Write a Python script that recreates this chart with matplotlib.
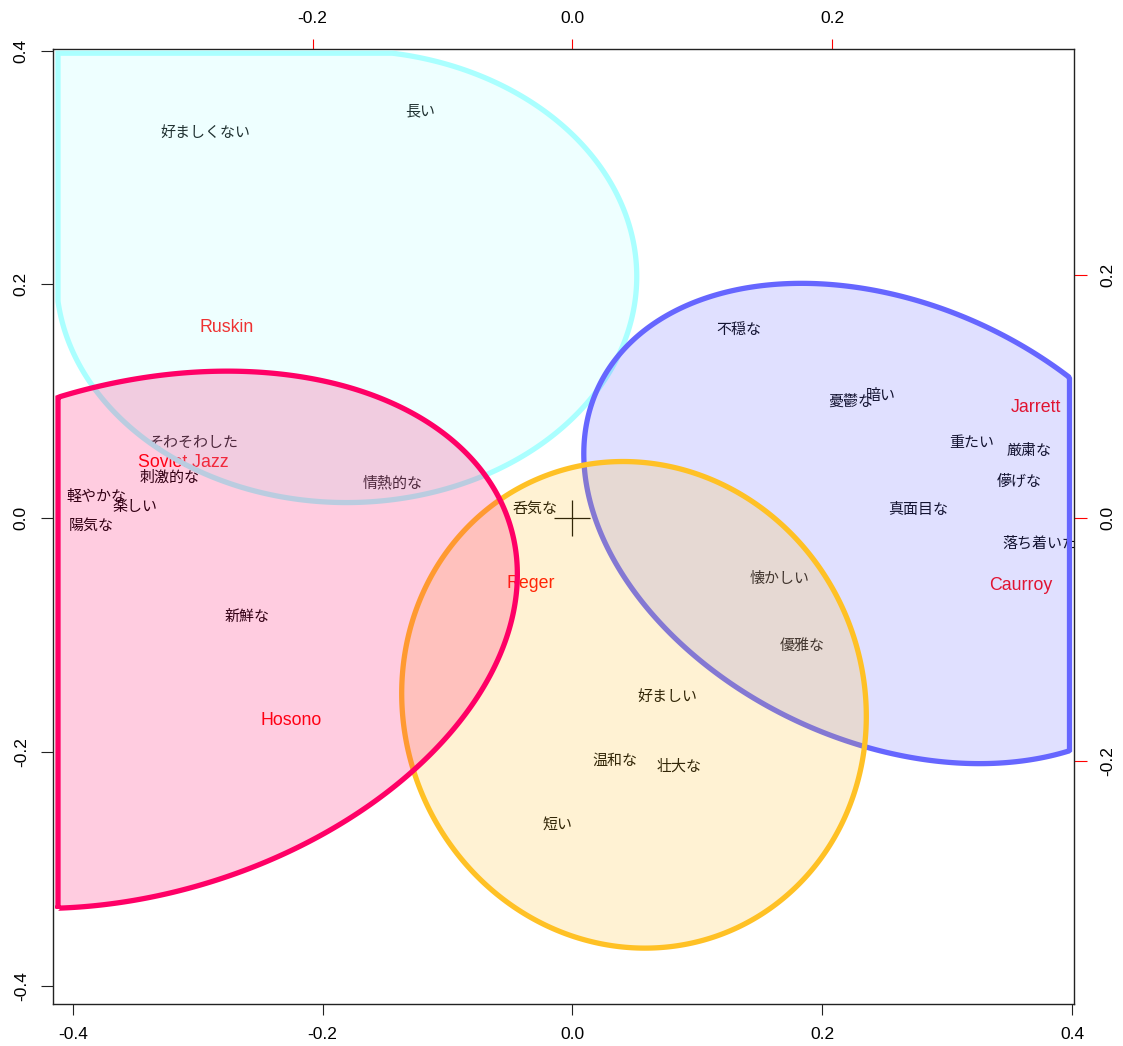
import numpy as np
import matplotlib
matplotlib.use("Agg")
import matplotlib.pyplot as plt
import matplotlib.transforms as mtransforms
from matplotlib.patches import Polygon
from matplotlib.colors import to_rgb

plt.rcParams['font.family'] = ['Liberation Sans', 'Noto Sans CJK JP', 'DejaVu Sans']
plt.rcParams['axes.unicode_minus'] = False

# Adjectives (row scores, bottom/left scale)
word_labels = ["好ましくない", "長い", "そわそわした", "刺激的な", "情熱的な", "軽やかな",
               "楽しい", "陽気な", "新鮮な", "呑気な", "不穏な", "憂鬱な", "暗い",
               "重たい", "厳粛な", "儚げな", "真面目な", "落ち着いた", "懐かしい",
               "優雅な", "好ましい", "温和な", "壮大な", "短い"]
word_x = [-0.2941, -0.1221, -0.3037, -0.3225, -0.1442, -0.3810, -0.3506, -0.3851,
          -0.2602, -0.0301, 0.1335, 0.2225, 0.2473, 0.3193, 0.3659, 0.3574,
          0.2766, 0.3745, 0.1662, 0.1841, 0.0759, 0.0337, 0.0857, -0.0119]
word_y = [0.3298, 0.3478, 0.0645, 0.0346, 0.0303, 0.0183, 0.0098, -0.0062,
          -0.0839, 0.0080, 0.1609, 0.0996, 0.1044, 0.0645, 0.0573, 0.0317,
          0.0074, -0.0216, -0.0516, -0.1095, -0.1528, -0.2079, -0.2122, -0.2621]

# Pieces (column scores, top/right scale)
piece_labels = ["Ruskin", "Soviet Jazz", "Jarrett", "Caurroy", "Reger", "Hosono"]
piece_x = [-0.2666, -0.2993, 0.3572, 0.3455, -0.0324, -0.2164]
piece_y = [0.1572, 0.0456, 0.0913, -0.0551, -0.0540, -0.1665]

# the top/right scale is the bottom/left scale divided by this ratio
scale_ratio = 1.04

# Cluster ellipses on the bottom/left scale: centre, spread, correlation
cluster_cx = [-0.1809, 0.2547, 0.0493, -0.3513]
cluster_cy = [0.2068, -0.0045, -0.1596, -0.1040]
cluster_sx = [0.2324, 0.2456, 0.1860, 0.3072]
cluster_sy = [0.1934, 0.2054, 0.2081, 0.2298]
cluster_rho = [0.0, -0.29, -0.047, 0.2438]
cluster_corner = [(-1, 1), None, None, None]
cluster_colors = ["#AAFFFF", "#6666FF", "#FFC125", "#FF0066"]

lims = (-0.4155, 0.4016)

fig = plt.figure(figsize=(11.23, 10.46), dpi=100)
ax = fig.add_axes([0.04764, 0.04015, 0.90873, 0.91329])
ax.set_xlim(lims)
ax.set_ylim(lims)

ticks = [-0.4, -0.2, 0.0, 0.2, 0.4]
ax.set_xticks(ticks)
ax.set_xticklabels([f"{t:.1f}" for t in ticks])
ax.set_yticks(ticks)
ax.set_yticklabels([f"{t:.1f}" for t in ticks], rotation=90, va='center')
ax.tick_params(axis='x', direction='out', length=8.0, width=0.8, color='#222222',
               labelsize=12.5, pad=8.5)
ax.tick_params(axis='y', direction='out', length=8.3, width=0.8, color='#222222',
               labelsize=12.5, pad=9.5)
for sp in ax.spines.values():
    sp.set_color('#222222')
    sp.set_linewidth(1.0)

# Secondary scale for the pieces
secx = ax.secondary_xaxis('top', functions=(lambda v: v / scale_ratio, lambda v: v * scale_ratio))
sec_ticks = [-0.2, 0.0, 0.2]
secx.set_xticks(sec_ticks)
secx.set_xticklabels([f"{t:.1f}" for t in sec_ticks])
secx.tick_params(direction='out', length=7.5, width=0.8, color='red', labelsize=12.5, pad=8.5)
secx.spines['top'].set_visible(False)
secy = ax.secondary_yaxis('right', functions=(lambda v: v / scale_ratio, lambda v: v * scale_ratio))
secy.set_yticks(sec_ticks)
secy.set_yticklabels([f"{t:.1f}" for t in sec_ticks], rotation=90, va='center')
secy.tick_params(direction='out', length=9.5, width=0.8, color='red', labelsize=12.5, pad=9.5)
secy.spines['right'].set_visible(False)

# Labels
for lab, x, y in zip(word_labels, word_x, word_y):
    ax.text(x, y, lab, fontsize=10.8, color='black', ha='center', va='center',
            family=['Noto Sans CJK JP', 'DejaVu Sans'], zorder=2, clip_on=True)

piece_tf = mtransforms.Affine2D().scale(scale_ratio) + ax.transData
for lab, x, y in zip(piece_labels, piece_x, piece_y):
    ax.text(x, y, lab, fontsize=12.8, color='red', ha='center', va='center',
            transform=piece_tf, zorder=2, clip_on=True)

ax.plot([0], [0], marker='+', markersize=26, color='black', mew=0.9, zorder=2)

# Cluster ellipses, kept inside the plotting box
fig.canvas.draw()
bbox = ax.get_window_extent()
inset_x = 4.5 * (lims[1] - lims[0]) / bbox.width
inset_y = 4.5 * (lims[1] - lims[0]) / bbox.height
xlo, xhi = lims[0] + inset_x, lims[1] - inset_x
ylo, yhi = lims[0] + inset_y, lims[1] - inset_y

t = np.linspace(0, 2 * np.pi, 721)
for i, col in enumerate(cluster_colors):
    cx, cy = cluster_cx[i], cluster_cy[i]
    sx, sy, rho = cluster_sx[i], cluster_sy[i], cluster_rho[i]
    px = cx + sx * np.cos(t)
    py = cy + sy * (rho * np.cos(t) + np.sqrt(1 - rho ** 2) * np.sin(t))
    corner = cluster_corner[i]
    if corner is not None:
        q = (np.sign(px - cx) == corner[0]) & (np.sign(py - cy) == corner[1])
        px = np.where(q, xlo if corner[0] < 0 else xhi, px)
        py = np.where(q, yhi if corner[1] > 0 else ylo, py)
    px = np.clip(px, xlo, xhi)
    py = np.clip(py, ylo, yhi)
    r, g, b = to_rgb(col)
    poly = Polygon(np.column_stack([px, py]), closed=True, facecolor=(r, g, b, 0.2),
                   edgecolor=col, linewidth=3.8, joinstyle='miter', zorder=3 + i)
    ax.add_patch(poly)

fig.savefig("out.png", dpi=100)
